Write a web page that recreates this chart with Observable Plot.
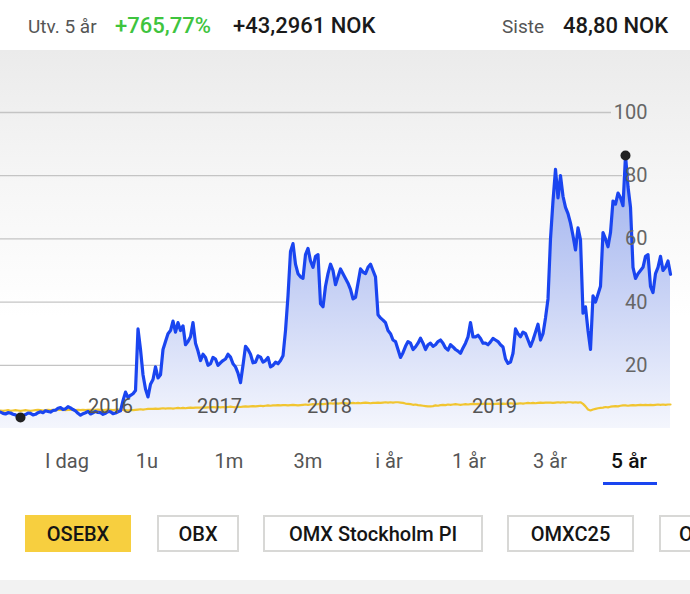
<!DOCTYPE html>
<html>
<head>
<meta charset="utf-8">
<script src="https://cdn.jsdelivr.net/npm/d3@7"></script>
<script src="https://cdn.jsdelivr.net/npm/@observablehq/plot@0.6"></script>
<style>
  html, body { margin: 0; padding: 0; background: #fff; }
  body { width: 690px; height: 594px; position: relative; overflow: hidden; font-family: Roboto, "Liberation Sans", sans-serif; }
  .abs { position: absolute; white-space: nowrap; }
  #header { position: absolute; left: 0; top: 0; width: 690px; height: 50px; background: #fff; }
  #chartbg { position: absolute; left: 0; top: 50px; width: 690px; height: 382px;
    background: linear-gradient(#ebebeb 0%, #f6f6f6 35%, #ffffff 70%, #ffffff 100%); }
  #chart { position: absolute; left: 0; top: 50px; }
  .tab { position: absolute; top: 449px; font-size: 20px; color: #555; transform: translateX(-50%); }
  .tab.active { color: #111; font-weight: 500; font-size: 21px; }
  .btn { position: absolute; top: 515px; height: 37px; box-sizing: border-box; border: 2px solid #d8d8d6; background: #fff;
    font-size: 20px; font-weight: 500; color: #151515; display: flex; align-items: center; justify-content: center; white-space: nowrap; overflow: hidden; }
  #foot { position: absolute; left: 0; top: 580px; width: 690px; height: 14px; background: #f2f2f2; }
</style>
</head>
<body>
<div id="header">
  <span class="abs" style="left:28px; top:15px; font-size:19px; color:#555;">Utv. 5 år</span>
  <span class="abs" style="left:115px; top:13px; font-size:22px; color:#3ec43e; font-weight:500;">+765,77%</span>
  <span class="abs" style="left:233px; top:13px; font-size:22px; color:#1a1a1a; font-weight:500;">+43,2961 NOK</span>
  <span class="abs" style="left:502px; top:15px; font-size:19px; color:#555;">Siste</span>
  <span class="abs" style="left:563px; top:13px; font-size:22px; color:#1a1a1a; font-weight:500;">48,80 NOK</span>
</div>
<div id="chartbg"></div>
<div id="chart"></div>
<div id="tabs"></div>
<div style="position:absolute; left:603px; top:482px; width:54px; height:3px; background:#1a45f0;"></div>
<div id="buttons"></div>
<div id="foot"></div>
<script>
// ---- data (one sample ≈ every 2.5 px) ----
const stockValues = [
  5.2,4.8,4.6,5.0,4.9,4.5,4.3,4.0,3.5,4.1,
  4.4,4.9,4.8,4.3,4.5,5.0,5.3,5.0,5.6,5.4,
  5.2,5.7,5.8,6.4,6.6,6.0,6.2,6.9,6.5,6.0,
  5.6,4.8,4.2,4.7,5.0,5.4,4.6,5.0,5.4,5.1,
  5.0,4.5,4.8,5.4,5.3,4.7,4.9,5.3,5.6,8.8,
  11.5,9.8,10.5,11.0,12.0,31.5,25.0,17.0,12.5,10.0,
  14.0,15.5,19.5,16.0,17.0,25.0,27.5,30.0,31.0,34.0,
  30.5,33.5,31.0,32.5,26.5,27.5,29.0,33.5,27.0,24.5,
  21.5,23.5,22.5,20.0,20.5,22.5,22.0,20.0,20.8,21.5,
  22.0,23.5,22.6,20.5,19.5,17.5,14.5,20.0,26.0,25.0,
  23.5,20.8,21.0,23.0,22.6,21.0,21.5,22.5,19.5,20.0,
  21.0,20.5,21.5,23.0,31.0,42.0,56.0,58.5,52.0,49.0,
  48.0,47.5,55.0,57.0,53.0,51.0,54.5,55.0,39.5,38.5,
  45.0,49.0,52.0,50.0,45.5,48.0,50.5,49.0,47.5,46.0,
  44.0,41.0,41.5,46.0,50.5,49.5,49.0,51.0,52.0,50.0,
  48.0,36.0,35.0,34.3,33.5,31.0,30.0,28.0,27.5,25.0,
  22.5,24.0,26.0,27.5,27.0,25.0,25.8,27.0,28.6,27.0,
  25.0,26.5,27.0,26.0,26.5,27.5,28.0,27.0,25.5,24.8,
  26.5,25.8,25.0,24.5,23.8,25.5,27.0,29.0,33.5,29.0,
  29.0,29.5,28.5,27.0,27.0,26.5,27.4,28.5,28.0,27.5,
  26.5,25.8,22.0,20.6,21.0,23.8,31.5,30.0,29.0,30.5,
  30.0,28.0,26.0,28.0,30.5,33.0,28.0,30.0,35.0,41.0,
  60.0,72.0,82.0,73.0,80.0,73.5,70.0,68.0,65.0,61.0,
  56.5,63.5,59.7,36.5,38.5,31.0,25.0,42.0,40.0,42.5,
  45.0,62.0,60.0,57.5,62.0,72.0,71.0,74.5,73.0,70.5,
  86.4,76.5,70.0,51.0,47.5,49.0,50.0,51.0,54.5,55.0,
  45.0,43.0,49.0,51.0,54.5,50.0,51.0,53.0,48.8
];
const osebxValues = [
  5.7,5.6,5.7,5.8,5.6,5.7,5.8,5.7,5.6,5.7,
  5.8,5.7,5.6,5.7,5.8,5.9,5.8,5.7,5.8,5.9,
  5.8,5.9,5.8,5.9,6.0,5.9,5.8,5.9,6.0,5.9,
  5.8,5.9,5.8,5.9,5.8,5.9,5.9,5.8,5.9,6.0,
  5.9,5.8,5.9,6.0,5.9,5.8,5.9,6.0,6.0,5.9,
  5.8,5.7,5.8,5.8,5.9,6.0,6.1,6.0,6.1,6.2,
  6.2,6.2,6.3,6.2,6.3,6.4,6.3,6.4,6.4,6.3,
  6.4,6.5,6.4,6.5,6.4,6.5,6.6,6.5,6.6,6.6,
  6.6,6.7,6.6,6.7,6.7,6.8,6.7,6.8,6.7,6.8,
  6.7,6.8,6.9,6.8,6.7,6.9,6.8,6.9,7.0,6.9,
  7.0,7.1,7.0,7.1,7.2,7.1,7.2,7.3,7.2,7.3,
  7.3,7.4,7.3,7.4,7.4,7.3,7.4,7.5,7.4,7.3,
  7.4,7.5,7.6,7.5,7.6,7.7,7.6,7.7,7.8,7.7,
  7.8,7.9,8.0,7.9,8.0,7.9,8.0,8.1,8.0,7.9,
  8.0,8.1,8.0,8.1,8.0,8.1,8.2,8.1,8.0,8.1,
  8.1,8.2,8.1,8.2,8.3,8.2,8.3,8.2,8.3,8.3,
  8.2,8.1,7.9,7.8,7.7,7.5,7.6,7.4,7.3,7.2,
  7.1,7.0,7.0,7.1,7.3,7.2,7.4,7.5,7.4,7.6,
  7.5,7.6,7.7,7.6,7.5,7.6,7.7,7.6,7.7,7.8,
  7.7,7.8,7.7,7.8,7.9,7.8,7.8,7.7,7.8,7.9,
  7.8,7.9,7.8,7.9,8.0,7.9,7.8,7.9,8.0,7.9,
  8.0,8.1,8.0,8.1,8.0,8.1,8.2,8.1,8.2,8.2,
  8.2,8.1,8.2,8.3,8.2,8.3,8.2,8.3,8.3,8.2,
  8.3,8.2,8.3,7.8,7.0,6.0,5.7,6.0,6.2,6.4,
  6.5,6.6,6.8,6.7,6.9,7.0,7.1,7.0,7.2,7.3,
  7.3,7.2,7.3,7.4,7.3,7.4,7.5,7.4,7.5,7.4,
  7.5,7.4,7.5,7.6,7.5,7.6,7.5,7.6,7.6
];
const yearLabels = ["2016", "2017", "2018", "2019"];
const yearPositions = [44, 87.6, 131.6, 197.6];   // sample index where each label sits
const yTicks = [20, 40, 60, 80, 100];
const tabLabels = ["I dag", "1u", "1m", "3m", "i år", "1 år", "3 år", "5 år"];
const buttonLabels = ["OSEBX", "OBX", "OMX Stockholm PI", "OMXC25", "OMXN40"];

// ---- chart ----
const data = stockValues.map((v, i) => ({i, v, o: osebxValues[i]}));
const extremes = [data[d3.minIndex(data, d => d.v)], data[d3.maxIndex(data, d => d.v)]];
const yearMap = new Map(yearPositions.map((p, k) => [p, yearLabels[k]]));

const plot = Plot.plot({
  width: 690,
  height: 380,
  marginTop: 62,
  marginBottom: 2,
  marginLeft: 0,
  marginRight: 20,
  style: {background: "transparent", fontFamily: "Roboto, 'Liberation Sans', sans-serif", fontSize: "20px", color: "#666", overflow: "visible"},
  x: {domain: [0, stockValues.length - 1]},
  y: {domain: [0, 100]},
  marks: [
    Plot.ruleY(yTicks.filter(t => t < 100), {stroke: "#c4c4c4", strokeWidth: 1.3, insetRight: 48}),
    Plot.ruleY(yTicks.filter(t => t >= 100), {stroke: "#c4c4c4", strokeWidth: 1.3, insetRight: 59}),
    Plot.areaY(data, {x: "i", y: "v", fill: "url(#areaGrad)"}),
    Plot.lineY(data, {x: "i", y: "o", stroke: "#f1c530", strokeWidth: 2.2}),
    Plot.lineY(data, {x: "i", y: "v", stroke: "#1a45f0", strokeWidth: 3.2, strokeLinejoin: "round"}),
    Plot.axisY(yTicks, {anchor: "right", tickSize: 0, tickPadding: -23, textAnchor: "end", fill: "#666", label: null}),
    Plot.axisX(yearPositions, {anchor: "bottom", tickSize: 0, tickPadding: -30, fill: "#555", tickFormat: d => yearMap.get(d), label: null}),
    Plot.dot(extremes, {x: "i", y: "v", r: 5, fill: "#222", stroke: "none"})
  ]
});

const ns = "http://www.w3.org/2000/svg";
const defs = document.createElementNS(ns, "defs");
defs.innerHTML = `<linearGradient id="areaGrad" x1="0" y1="0" x2="0" y2="1">
  <stop offset="0%" stop-color="#9db0ee"/>
  <stop offset="45%" stop-color="#c3cef4"/>
  <stop offset="100%" stop-color="#f4f6fd"/>
</linearGradient>`;
plot.insertBefore(defs, plot.firstChild);
document.getElementById("chart").appendChild(plot);

// ---- tabs ----
const tabCenters = [67, 147, 229, 308, 389, 469, 550, 629];
const tabs = document.getElementById("tabs");
tabLabels.forEach((t, k) => {
  const s = document.createElement("span");
  s.className = "tab" + (k === tabLabels.length - 1 ? " active" : "");
  s.style.left = tabCenters[k] + "px";
  s.textContent = t;
  tabs.appendChild(s);
});

// ---- buttons (the last one runs off the right edge, as in the reference) ----
const btnBoxes = [[25, 106], [157, 82], [263, 220], [507, 127], [659, 110]];
const buttons = document.getElementById("buttons");
buttonLabels.forEach((t, k) => {
  const b = document.createElement("div");
  b.className = "btn";
  b.style.left = btnBoxes[k][0] + "px";
  b.style.width = btnBoxes[k][1] + "px";
  if (k === 0) { b.style.background = "#f7cf3f"; b.style.borderColor = "#f7cf3f"; }
  if (k === buttonLabels.length - 1) { b.style.justifyContent = "flex-start"; b.style.paddingLeft = "18px"; }
  b.textContent = t;
  buttons.appendChild(b);
});
</script>
</body>
</html>
